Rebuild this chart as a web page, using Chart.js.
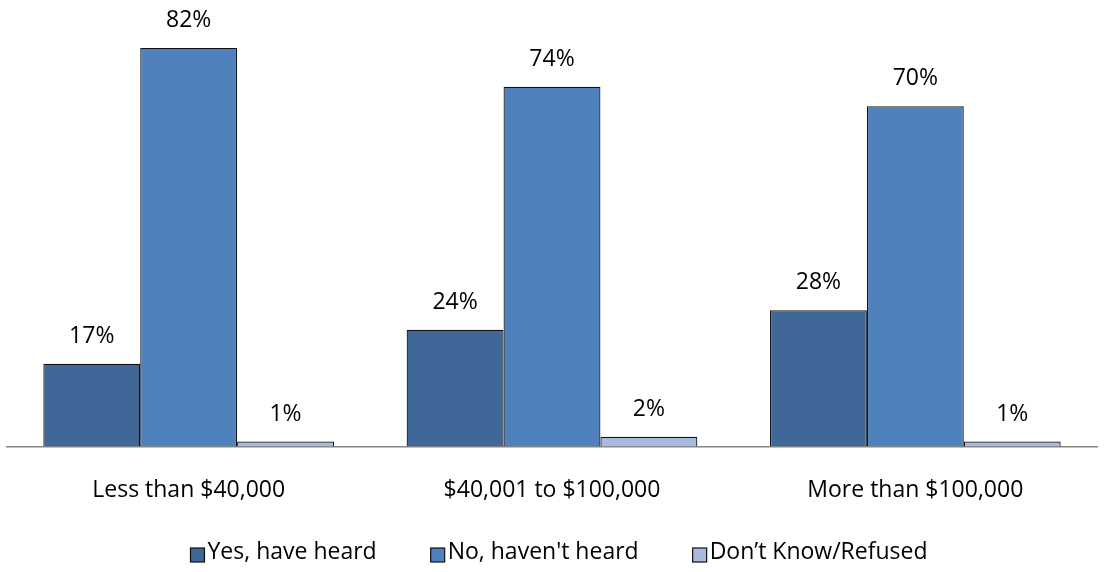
<!DOCTYPE html>
<html>
<head>
<meta charset="utf-8">
<script src="https://cdn.jsdelivr.net/npm/chart.js@4"></script>
<style>
  html, body { margin: 0; padding: 0; background: #fff; }
  #wrap { width: 1104px; height: 572px; }
</style>
</head>
<body>
<div id="wrap"><canvas id="incomeChart"></canvas></div>
<script>
const categories = ['Less than $40,000', '$40,001 to $100,000', 'More than $100,000'];
const seriesNames = ['Yes, have heard', "No, haven't heard", 'Don\u2019t Know/Refused'];
const yesHeard = [17, 24, 28];
const notHeard = [82, 74, 70];
const dontKnow = [1, 2, 1];

const seriesColors = ['#3F6797', '#4F81BD', '#A7B9DD'];
const fontFamily = "'Open Sans', 'Liberation Sans', sans-serif";
const fontSize = 23;

// draws the percentage above every bar
const valueLabels = {
  id: 'valueLabels',
  afterDatasetsDraw(chart) {
    const ctx = chart.ctx;
    ctx.save();
    ctx.font = fontSize + 'px ' + fontFamily;
    ctx.fillStyle = '#000';
    ctx.textAlign = 'center';
    ctx.textBaseline = 'middle';
    chart.data.datasets.forEach((ds, i) => {
      chart.getDatasetMeta(i).data.forEach((bar, j) => {
        ctx.fillText(ds.data[j] + '%', bar.x, bar.y - 27.5);
      });
    });
    ctx.restore();
  }
};

// legend row under the axis labels: small square, tight gap, wide spacing between entries
const boxLegend = {
  id: 'boxLegend',
  afterDraw(chart) {
    const ctx = chart.ctx;
    const box = 14, gap = 3, spacing = 54;
    ctx.save();
    ctx.font = fontSize + 'px ' + fontFamily;
    const widths = chart.data.datasets.map(ds => box + gap + ctx.measureText(ds.label).width);
    const total = widths.reduce((a, b) => a + b, 0) + spacing * (widths.length - 1);
    let x = (chart.chartArea.left + chart.chartArea.right) / 2 + 7 - total / 2;
    const y = chart.height - 20;
    chart.data.datasets.forEach((ds, i) => {
      ctx.fillStyle = ds.backgroundColor;
      ctx.fillRect(x, y - 4, box, box);
      ctx.strokeStyle = '#111';
      ctx.lineWidth = 1.2;
      ctx.strokeRect(x, y - 4, box, box);
      ctx.fillStyle = '#000';
      ctx.textAlign = 'left';
      ctx.textBaseline = 'middle';
      ctx.fillText(ds.label, x + box + gap, y);
      x += widths[i] + spacing;
    });
    ctx.restore();
  }
};

new Chart(document.getElementById('incomeChart'), {
  type: 'bar',
  data: {
    labels: categories,
    datasets: [yesHeard, notHeard, dontKnow].map((vals, i) => ({
      label: seriesNames[i],
      data: vals,
      backgroundColor: seriesColors[i],
      borderColor: '#111',
      borderWidth: 1.2,
      borderSkipped: 'bottom',
      categoryPercentage: 0.8,
      barPercentage: 1.0
    }))
  },
  options: {
    responsive: true,
    maintainAspectRatio: false,
    animation: false,
    layout: { padding: { left: 7, right: 7, top: 9, bottom: 38 } },
    scales: {
      x: {
        grid: { display: false, drawTicks: false },
        border: { color: '#868686', width: 1.6 },
        ticks: { color: '#000', font: { family: fontFamily, size: fontSize }, padding: 30 }
      },
      y: {
        display: false,
        min: 0,
        max: 90
      }
    },
    plugins: {
      legend: { display: false },
      tooltip: { enabled: false }
    }
  },
  plugins: [valueLabels, boxLegend]
});
</script>
</body>
</html>
